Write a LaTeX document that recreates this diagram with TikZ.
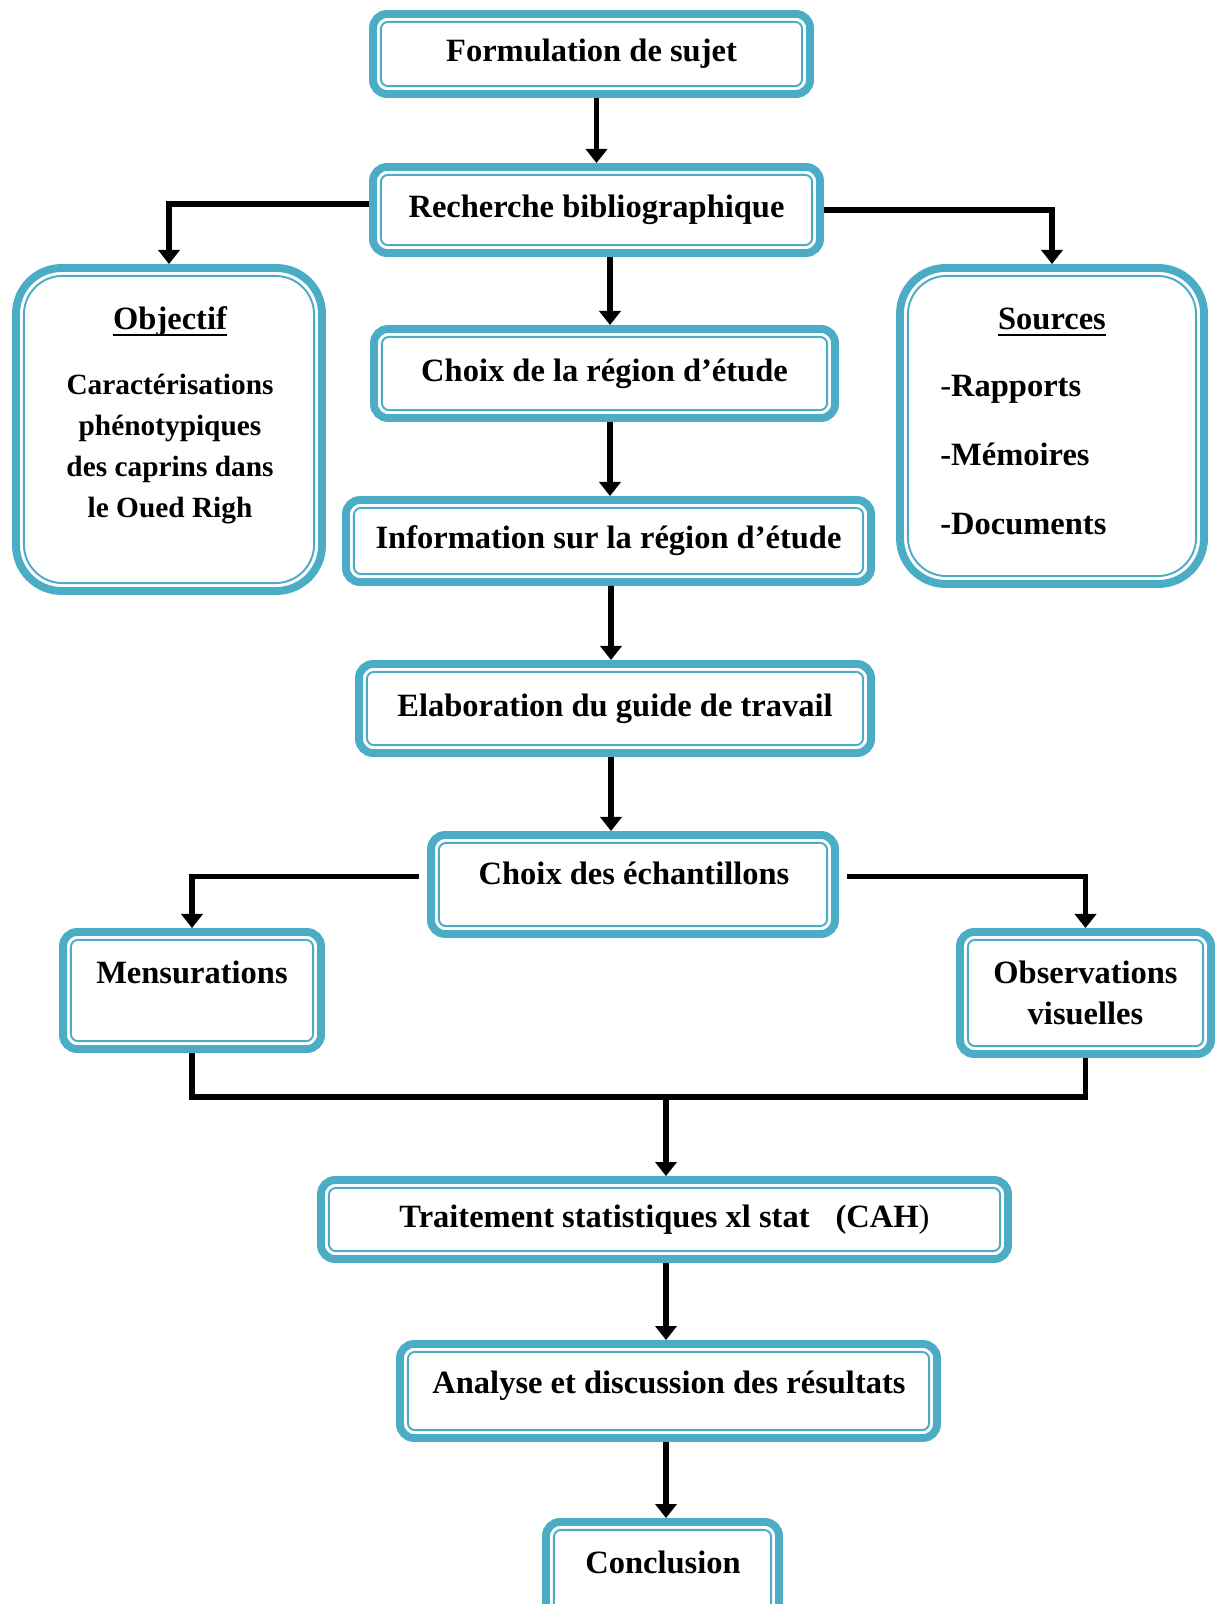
\documentclass[tikz,border=0pt]{standalone}
\usepackage{fontspec}
\setmainfont{Liberation Serif}
\usepackage{tikz}
\usetikzlibrary{arrows.meta,calc}
\definecolor{capblue}{HTML}{4BACC6}
\newdimen\pxu \pxu=0.02cm
\newcommand\ultext[1]{\leavevmode\setbox0\hbox{#1}\rlap{\rule[-3.6pt]{\wd0}{1.4pt}}\box0}

\begin{document}
\begin{tikzpicture}[x=0.02cm,y=-0.02cm,
	font=\fontsize{18.5}{23}\selectfont\bfseries,
	box/.style={draw=capblue,line width=4.5pt,fill=white,rounded corners=#1,
		inner sep=0pt,align=center,
		path picture={\draw[capblue,line width=1.1pt,rounded corners=#1-4pt]
			($(path picture bounding box.north west)+(4.5pt,-4.5pt)$) rectangle
			($(path picture bounding box.south east)+(-4.5pt,4.5pt)$);}},
	box/.default=8pt,
	lbl/.style={anchor=base,inner sep=0pt},
	line/.style={line width=3.2pt},
	link/.style={line,-{Triangle[width=12pt,length=8pt]}}]
	
	\useasboundingbox[fill=white] (0,0) rectangle (1217,1604);
	
	\node[box,minimum width=437\pxu,minimum height=80\pxu] (form) at (591.5,54) {Formulation de sujet};
	\node[box,minimum width=447\pxu,minimum height=86\pxu] (rech) at (596.5,210) {Recherche bibliographique};
	\node[box=26pt,minimum width=306\pxu,minimum height=323\pxu] (obj) at (169,429.5) {};
	\node[box=26pt,minimum width=304\pxu,minimum height=316\pxu] (src) at (1052,426) {};
	\node[box,minimum width=461\pxu,minimum height=89\pxu] (creg) at (604.5,373.5) {Choix de la région d’étude};
	\node[box,minimum width=525\pxu,minimum height=82\pxu] (info) at (608.5,541) {Information sur la région d’étude};
	\node[box,minimum width=512\pxu,minimum height=89\pxu] (elab) at (615,708.5) {Elaboration du guide de travail};
	\node[box,minimum width=404\pxu,minimum height=99\pxu] (ech) at (633,884.5) {};
	\node[box,minimum width=258\pxu,minimum height=117\pxu] (mens) at (192,990.5) {};
	\node[box,minimum width=251\pxu,minimum height=122\pxu] (obs) at (1085.5,993) {Observations\\visuelles};
	\node[box,minimum width=687\pxu,minimum height=79\pxu] (trt) at (664.5,1219.5) {Traitement statistiques xl stat\hspace{0.55em} (CAH{\mdseries)}};
	\node[box,minimum width=537\pxu,minimum height=94\pxu] (ana) at (668.5,1391) {};
	\node[box,minimum width=233\pxu,minimum height=100\pxu] (conc) at (662.5,1572) {};
	
	\node[lbl] (objt) at (170,330) {\ultext{Objectif}};
	\node[align=center,inner sep=0pt,font=\fontsize{16.7}{23.2}\selectfont\bfseries] (objb) at (170,449)
		{Caractérisations\\phénotypiques\\des caprins dans\\le Oued Righ};
	\node[lbl] (srct) at (1052,330) {\ultext{Sources}};
	\node[anchor=west,align=left,inner sep=0pt,font=\fontsize{18.5}{39.3}\selectfont\bfseries] (srcb) at (940,455)
		{{\mdseries-}Rapports\\-Mémoires\\-Documents};
	\node[lbl] (echt) at (634,884) {Choix des échantillons};
	\node[lbl] (menst) at (192,983) {Mensurations};
	\node[lbl] (anat) at (669,1393) {Analyse et discussion des résultats};
	\node[lbl] (conct) at (663,1573) {Conclusion};
	
	\coordinate (merge) at (666,1097);
	\draw[link] (rech.north |- form.south) -- (rech.north);
	\draw[link] ([shift={(0,-6)}]rech.west) -| (obj.north);
	\draw[link] (rech.east) -| (src.north);
	\draw[link] ([shift={(13.5,0)}]rech.south) -- ([shift={(5.5,0)}]creg.north);
	\draw[link] ([shift={(5.5,0)}]creg.south) -- ([shift={(1.5,0)}]info.north);
	\draw[link] ([shift={(2.5,0)}]info.south) -- ([shift={(-4,0)}]elab.north);
	\draw[link] ([shift={(-4,0)}]elab.south) -- ([shift={(-22,0)}]ech.north);
	\draw[link] ([shift={(-8,-8)}]ech.west) -| (mens.north);
	\draw[link] ([shift={(8,-8)}]ech.east) -| (obs.north);
	\draw[line] (mens.south) |- (merge) -| (obs.south);
	\draw[link] (merge) -- (merge |- trt.north);
	\draw[link] (merge |- trt.south) -- (merge |- ana.north);
	\draw[link] (merge |- ana.south) -- (merge |- conc.north);
\end{tikzpicture}
\end{document}
